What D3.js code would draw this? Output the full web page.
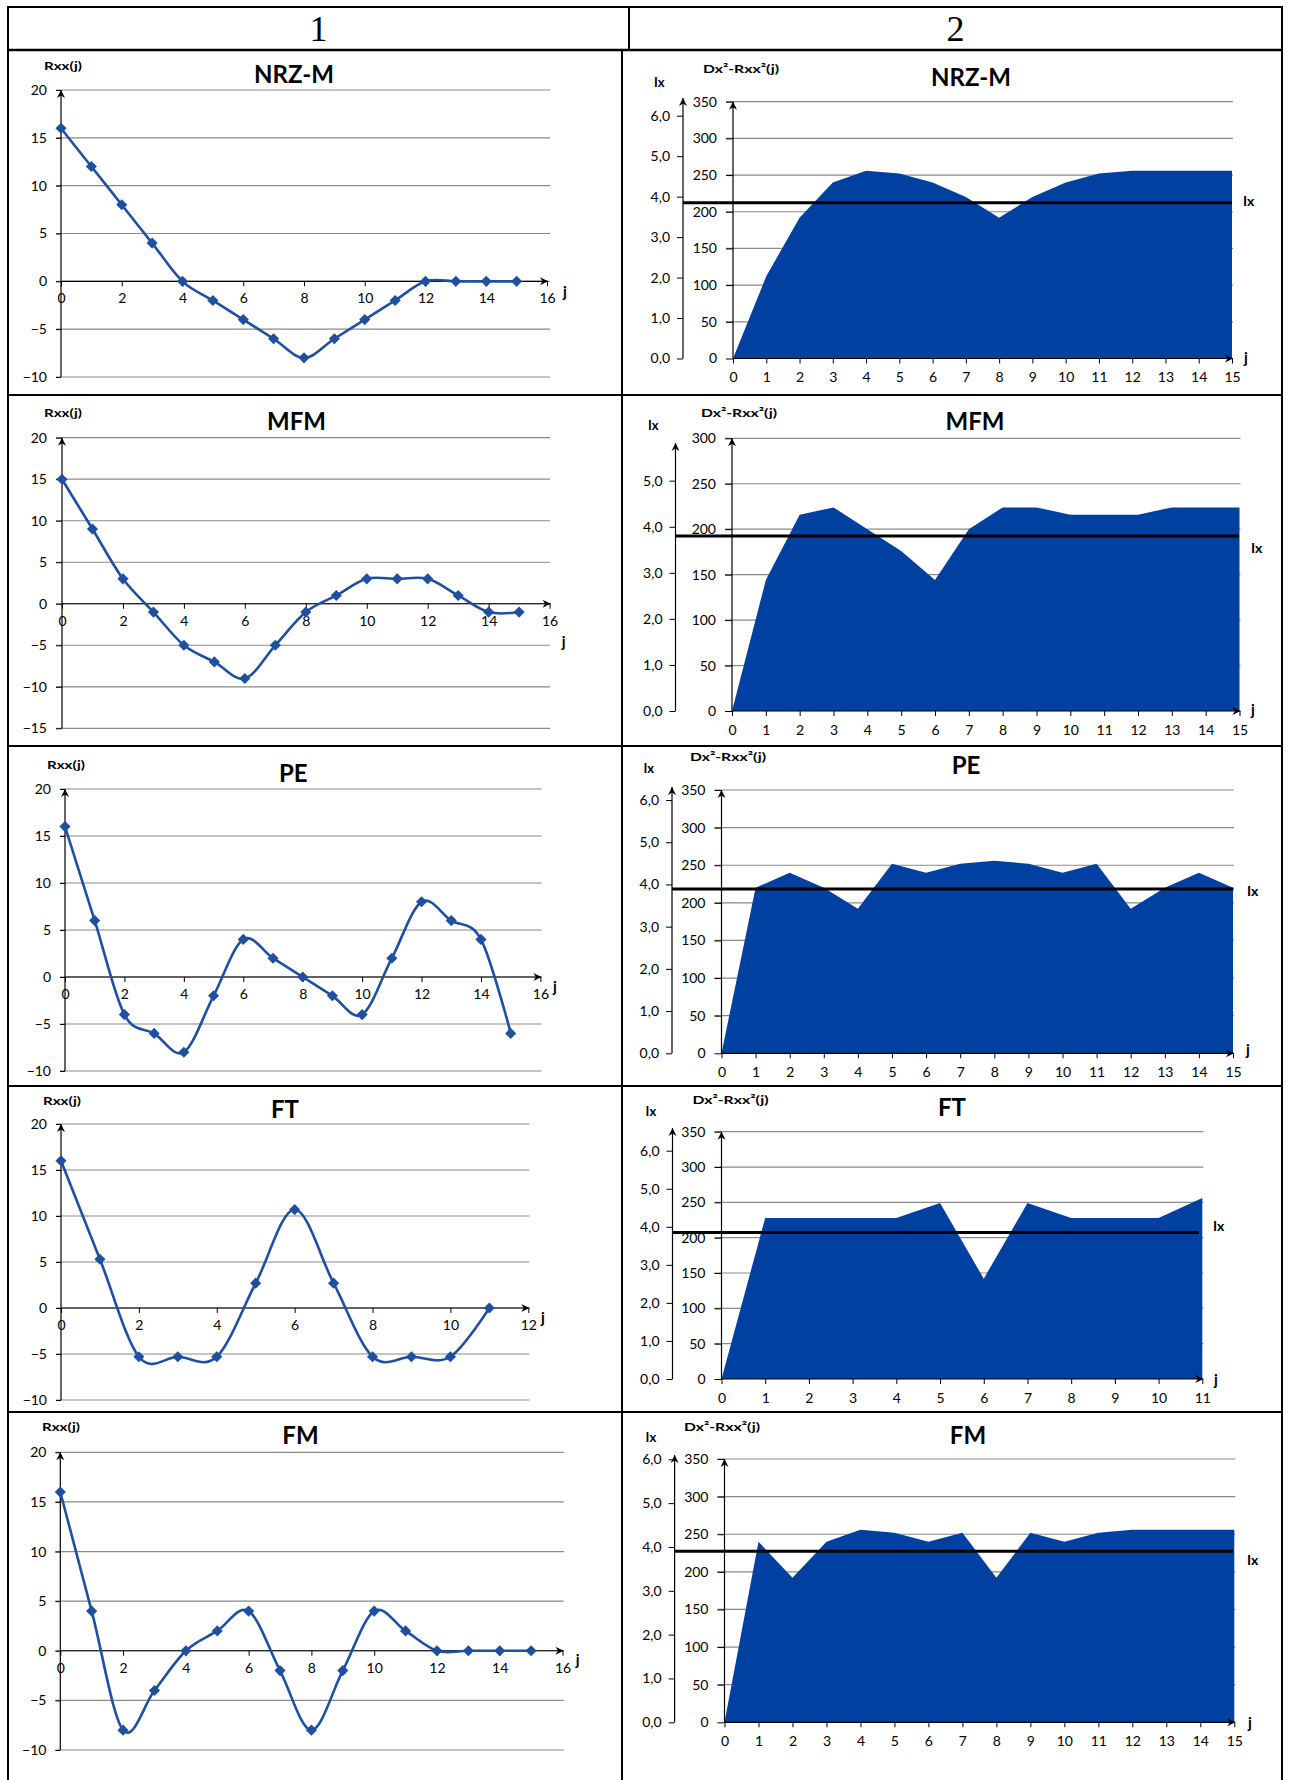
<!DOCTYPE html>
<html>
<head>
<meta charset="utf-8">
<script src="https://cdn.jsdelivr.net/npm/d3@7"></script>
<style>
body { margin: 0; background: #fff; }
text { font-family: Lato, "Open Sans", sans-serif; fill: #000; }
</style>
</head>
<body>
<div id="chart"></div>
<script>
// codes, one row of the table each
const codes = ["NRZ-M", "MFM", "PE", "FT", "FM"];
const headers = ["1", "2"];

// column 1: Rxx(j)
const rxxNRZM = [16, 12, 8, 4, 0, -2, -4, -6, -8, -6, -4, -2, 0, 0, 0, 0];
const rxxMFM = [15, 9, 3, -1, -5, -7, -9, -5, -1, 1, 3, 3, 3, 1, -1, -1];
const rxxPE = [16, 6, -4, -6, -8, -2, 4, 2, 0, -2, -4, 2, 8, 6, 4, -6];
const rxxFT = [16, 5.3, -5.3, -5.3, -5.3, 2.7, 10.7, 2.7, -5.3, -5.3, -5.3, 0];
const rxxFM = [16, 4, -8, -4, 0, 2, 4, -2, -8, -2, 4, 2, 0, 0, 0, 0];

// column 2: Dx^2 - Rxx^2(j)
const difNRZM = [0, 112, 192, 240, 256, 252, 240, 220, 192, 220, 240, 252, 256, 256, 256, 256];
const difMFM = [0, 144, 216, 224, 200, 176, 144, 200, 224, 224, 216, 216, 216, 224, 224, 224];
const difPE = [0, 220, 240, 220, 192, 252, 240, 252, 256, 252, 240, 252, 192, 220, 240, 220];
const difFT = [0, 228, 228, 228, 228, 249, 142, 249, 228, 228, 228, 256];
const difFM = [0, 240, 192, 240, 256, 252, 240, 252, 192, 252, 240, 252, 256, 256, 256, 256];

// Ix level of each row
const ixLevels = [3.85, 3.80, 3.89, 3.85, 3.90];

const rxxSeries = [rxxNRZM, rxxMFM, rxxPE, rxxFT, rxxFM];
const difSeries = [difNRZM, difMFM, difPE, difFT, difFM];

// placement of the charts inside the table cells
const leftBox = [
  {x0: 61, x1: 547, xMax: 16, yTop: 90, yBot: 377, yMin: -10, gl: 56, gr: 550, tx: 294, ty: 75, lx: 44, ly: 66, jx: 565, jy: 292},
  {x0: 62, x1: 549.6, xMax: 16, yTop: 437.7, yBot: 728.3, yMin: -15, gl: 56, gr: 550, tx: 296.5, ty: 422, lx: 44, ly: 413, jx: 563.7, jy: 641.7},
  {x0: 65, x1: 540.4, xMax: 16, yTop: 789, yBot: 1071, yMin: -10, gl: 60, gr: 541.6, tx: 293.3, ty: 773.3, lx: 47, ly: 765, jx: 555, jy: 986.7},
  {x0: 61, x1: 528.3, xMax: 12, yTop: 1124, yBot: 1400, yMin: -10, gl: 56, gr: 529.5, tx: 285, ty: 1109.3, lx: 43, ly: 1100.7, jx: 543, jy: 1318},
  {x0: 60.3, x1: 562.5, xMax: 16, yTop: 1452.3, yBot: 1750, yMin: -10, gl: 55.4, gr: 563.7, tx: 300.5, ty: 1435.7, lx: 42, ly: 1426.7, jx: 577.7, jy: 1660}
];
const rightBox = [
  {ix: 683, mx: 733, xe: 1232, xMax: 15, y0: 358.5, yTop: 101.7, mMax: 350, ixTop: 6, ixTopY: 115.7, arrowY: 98, lr: 1232, ilx: 1243, ily: 201, tx: 971, ty: 78, ixlx: 654, ixly: 82, dlx: 703, dly: 69, jx: 1246, jy: 358},
  {ix: 675.5, mx: 732, xe: 1239.5, xMax: 15, y0: 711, yTop: 438.3, mMax: 300, ixTop: 5, ixTopY: 480.7, arrowY: 443, lr: 1239, ilx: 1251, ily: 548, tx: 975, ty: 422, ixlx: 648, ixly: 425, dlx: 701, dly: 413, jx: 1253, jy: 710},
  {ix: 672, mx: 721.5, xe: 1233, xMax: 15, y0: 1053.3, yTop: 790, mMax: 350, ixTop: 6, ixTopY: 800, arrowY: 787, lr: 1233.5, ilx: 1247, ily: 891, tx: 966, ty: 766, ixlx: 643.5, ixly: 768, dlx: 690, dly: 757, jx: 1248, jy: 1050},
  {ix: 672.5, mx: 721.5, xe: 1202.3, xMax: 11, y0: 1379, yTop: 1131.7, mMax: 350, ixTop: 6, ixTopY: 1150.7, arrowY: 1128, lr: 1199, ilx: 1213, ily: 1226, tx: 952, ty: 1108, ixlx: 645.6, ixly: 1111, dlx: 692.5, dly: 1100, jx: 1216, jy: 1380},
  {ix: 674.6, mx: 724.5, xe: 1234.3, xMax: 15, y0: 1722.3, yTop: 1459, mMax: 350, ixTop: 6, ixTopY: 1459.3, arrowY: 1455, lr: 1233, ilx: 1247, ily: 1560, tx: 968, ty: 1436, ixlx: 645.6, ixly: 1437, dlx: 684, dly: 1427, jx: 1250, jy: 1723}
];

const lineBlue = "#1f4f9f";
const areaBlue = "#0040a0";
const gridGrey = "#8a8a8a";
const fontFam = "Lato, 'Open Sans', sans-serif";

const svg = d3.select("#chart")
  .append("svg")
  .attr("width", 1289)
  .attr("height", 1780);

svg.append("rect").attr("width", 1289).attr("height", 1780).attr("fill", "#fff");

var defs = svg.append("defs");
defs.append("marker")
  .attr("id", "arrow")
  .attr("viewBox", "-9 -5 10 10")
  .attr("refX", 0)
  .attr("refY", 0)
  .attr("markerWidth", 10)
  .attr("markerHeight", 10)
  .attr("markerUnits", "userSpaceOnUse")
  .attr("orient", "auto")
  .append("path")
  .attr("d", "M0,0 L-8,-4 L-5.5,0 L-8,4 Z")
  .attr("fill", "#000");

// ---- table ----
var table = svg.append("g").attr("stroke", "#000").attr("stroke-width", 2);
[7, 395, 746, 1086, 1412].forEach(function (y) {
  table.append("line").attr("x1", 8).attr("x2", 1283).attr("y1", y).attr("y2", y);
});
table.append("line").attr("x1", 8).attr("x2", 1283).attr("y1", 50).attr("y2", 50).attr("stroke-width", 2.5);
table.append("line").attr("x1", 8).attr("x2", 8).attr("y1", 6).attr("y2", 1780);
table.append("line").attr("x1", 1282).attr("x2", 1282).attr("y1", 6).attr("y2", 1780);
table.append("line").attr("x1", 629).attr("x2", 629).attr("y1", 7).attr("y2", 50);
table.append("line").attr("x1", 622).attr("x2", 622).attr("y1", 50).attr("y2", 1780);

svg.selectAll(".hdr")
  .data(headers)
  .enter()
  .append("text")
  .attr("class", "hdr")
  .attr("x", (d, i) => i === 0 ? 318.5 : 955.5)
  .attr("y", 41)
  .attr("text-anchor", "middle")
  .style("font-family", "'Liberation Serif', 'DejaVu Serif', serif")
  .style("font-size", "36px")
  .text(d => d);

function styleAxis(g, size) {
  g.attr("font-family", fontFam).attr("font-size", size || 14);
  g.select(".domain").remove();
  g.selectAll(".tick line").attr("stroke", "#000");
  g.selectAll(".tick text").attr("fill", "#000");
}

// ---- column 1: Rxx(j) line charts ----
function drawLeft(k) {
  const b = leftBox[k];
  const values = rxxSeries[k];
  const g = svg.append("g");

  const x = d3.scaleLinear().domain([0, b.xMax]).range([b.x0, b.x1]);
  const y = d3.scaleLinear().domain([b.yMin, 20]).range([b.yBot, b.yTop]);
  const yTicks = d3.range(b.yMin, 21, 5);

  g.selectAll(".grid")
    .data(yTicks)
    .enter()
    .append("line")
    .attr("x1", b.gl)
    .attr("x2", b.gr)
    .attr("y1", d => y(d))
    .attr("y2", d => y(d))
    .attr("stroke", gridGrey)
    .attr("stroke-width", 1.2);

  g.append("g")
    .attr("transform", `translate(${x(0)},0)`)
    .call(d3.axisLeft(y).tickValues(yTicks).tickSize(x(0) - b.gl).tickPadding(9))
    .call(styleAxis);

  g.append("g")
    .attr("transform", `translate(0,${y(0)})`)
    .call(d3.axisBottom(x).tickValues(d3.range(0, b.xMax + 1, 2)).tickSize(5).tickPadding(7))
    .call(styleAxis);

  g.append("line")
    .attr("x1", x(0)).attr("x2", x(0))
    .attr("y1", y(b.yMin)).attr("y2", y(20))
    .attr("stroke", "#000").attr("stroke-width", 1.2)
    .attr("marker-end", "url(#arrow)");
  g.append("line")
    .attr("x1", x(0)).attr("x2", x(b.xMax) + 1)
    .attr("y1", y(0)).attr("y2", y(0))
    .attr("stroke", "#000").attr("stroke-width", 1.2)
    .attr("marker-end", "url(#arrow)");

  const line = d3.line()
    .x((d, i) => x(i))
    .y(d => y(d))
    .curve(d3.curveCardinal.tension(0));

  g.append("path")
    .datum(values)
    .attr("d", line)
    .attr("fill", "none")
    .attr("stroke", lineBlue)
    .attr("stroke-width", 2.6);

  g.selectAll(".pt")
    .data(values)
    .enter()
    .append("path")
    .attr("d", d3.symbol(d3.symbolSquare, 62))
    .attr("transform", (d, i) => `translate(${x(i)},${y(d)}) rotate(45)`)
    .attr("fill", lineBlue);

  g.append("text")
    .attr("x", b.tx).attr("y", b.ty).attr("dy", "0.35em")
    .attr("text-anchor", "middle")
    .style("font-size", "24px").style("font-weight", "bold")
    .text(codes[k]);

  g.append("text")
    .attr("x", b.lx).attr("y", b.ly).attr("dy", "0.35em")
    .attr("textLength", 38).attr("lengthAdjust", "spacingAndGlyphs")
    .style("font-size", "12px").style("font-weight", "bold")
    .text("Rxx(j)");

  g.append("text")
    .attr("x", b.jx).attr("y", b.jy).attr("dy", "0.35em")
    .attr("text-anchor", "middle")
    .style("font-size", "15px").style("font-weight", "bold")
    .text("j");
}

// ---- column 2: Dx^2 - Rxx^2(j) area charts with Ix level ----
function drawRight(k) {
  const b = rightBox[k];
  const values = difSeries[k];
  const g = svg.append("g");

  const x = d3.scaleLinear().domain([0, b.xMax]).range([b.mx, b.xe]);
  const y = d3.scaleLinear().domain([0, b.mMax]).range([b.y0, b.yTop]);
  const yIx = d3.scaleLinear().domain([0, b.ixTop]).range([b.y0, b.ixTopY]);
  const mTicks = d3.range(0, b.mMax + 1, 50);
  const ixTicks = d3.range(0, b.ixTop + 1, 1);

  g.selectAll(".grid")
    .data(mTicks.filter(d => d > 0))
    .enter()
    .append("line")
    .attr("x1", b.mx - 7)
    .attr("x2", b.xe + 1)
    .attr("y1", d => y(d))
    .attr("y2", d => y(d))
    .attr("stroke", gridGrey)
    .attr("stroke-width", 1.2);

  const area = d3.area()
    .x((d, i) => x(i))
    .y0(y(0))
    .y1(d => y(d));

  g.append("path")
    .datum(values)
    .attr("d", area)
    .attr("fill", areaBlue);

  g.append("g")
    .attr("transform", `translate(${b.mx},0)`)
    .call(d3.axisLeft(y).tickValues(mTicks).tickSize(7).tickPadding(9))
    .call(styleAxis);

  g.append("g")
    .attr("transform", `translate(${b.ix},0)`)
    .call(d3.axisLeft(yIx).tickValues(ixTicks).tickSize(6).tickPadding(7)
      .tickFormat(d => d3.format(".1f")(d).replace(".", ",")))
    .call(styleAxis);

  g.append("g")
    .attr("transform", `translate(0,${b.y0})`)
    .call(d3.axisBottom(x).tickValues(d3.range(0, b.xMax + 1)).tickSize(5).tickPadding(9))
    .call(styleAxis);

  g.append("line")
    .attr("x1", b.ix).attr("x2", b.ix)
    .attr("y1", b.y0).attr("y2", b.arrowY)
    .attr("stroke", "#000").attr("stroke-width", 1.2)
    .attr("marker-end", "url(#arrow)");
  g.append("line")
    .attr("x1", b.mx).attr("x2", b.mx)
    .attr("y1", b.y0).attr("y2", y(b.mMax))
    .attr("stroke", "#000").attr("stroke-width", 1.2)
    .attr("marker-end", "url(#arrow)");
  g.append("line")
    .attr("x1", b.mx).attr("x2", x(b.xMax) + 1)
    .attr("y1", b.y0).attr("y2", b.y0)
    .attr("stroke", "#000").attr("stroke-width", 1.2)
    .attr("marker-end", "url(#arrow)");

  g.append("line")
    .attr("x1", b.ix).attr("x2", b.lr)
    .attr("y1", yIx(ixLevels[k])).attr("y2", yIx(ixLevels[k]))
    .attr("stroke", "#000").attr("stroke-width", 3);

  g.append("text")
    .attr("x", b.ilx).attr("y", b.ily).attr("dy", "0.35em")
    .style("font-size", "14px").style("font-weight", "bold")
    .text("Ix");

  g.append("text")
    .attr("x", b.tx).attr("y", b.ty).attr("dy", "0.35em")
    .attr("text-anchor", "middle")
    .style("font-size", "24px").style("font-weight", "bold")
    .text(codes[k]);

  g.append("text")
    .attr("x", b.ixlx).attr("y", b.ixly).attr("dy", "0.35em")
    .style("font-size", "13px").style("font-weight", "bold")
    .text("Ix");

  g.append("text")
    .attr("x", b.dlx).attr("y", b.dly).attr("dy", "0.35em")
    .attr("textLength", 76).attr("lengthAdjust", "spacingAndGlyphs")
    .style("font-size", "12px").style("font-weight", "bold")
    .text("Dx²-Rxx²(j)");

  g.append("text")
    .attr("x", b.jx).attr("y", b.jy).attr("dy", "0.35em")
    .attr("text-anchor", "middle")
    .style("font-size", "15px").style("font-weight", "bold")
    .text("j");
}

codes.forEach(function (c, k) {
  drawLeft(k);
  drawRight(k);
});
</script>
</body>
</html>
